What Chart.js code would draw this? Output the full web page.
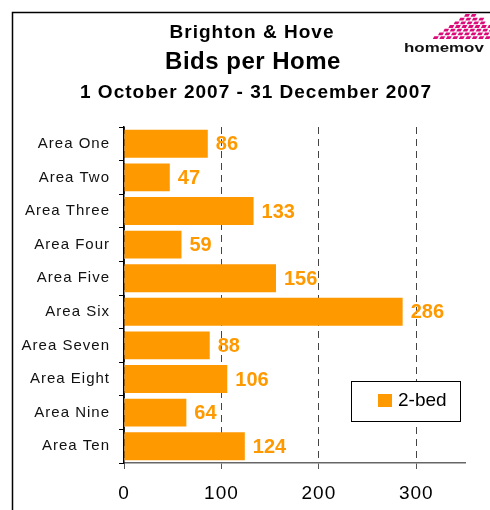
<!DOCTYPE html>
<html>
<head>
<meta charset="utf-8">
<script src="https://cdn.jsdelivr.net/npm/chart.js@4.4.0/dist/chart.umd.min.js"></script>
<style>
html, body { margin: 0; padding: 0; background: #fff; }
canvas { display: block; }
</style>
</head>
<body>
<canvas id="chart" width="490" height="510"></canvas>
<script>
// data
var areas = ['Area One', 'Area Two', 'Area Three', 'Area Four', 'Area Five',
             'Area Six', 'Area Seven', 'Area Eight', 'Area Nine', 'Area Ten'];
var bids = [86, 47, 133, 59, 156, 286, 88, 106, 64, 124];
var xTicks = [0, 100, 200, 300];
var seriesName = '2-bed';
var titleLines = ['Brighton & Hove', 'Bids per Home', '1 October 2007 - 31 December 2007'];
var logoText = 'homemov';

var orange = '#FF9900';
var fontName = '"Liberation Sans", Arial, sans-serif';

// frame, titles and logo
var decoPlugin = {
    id: 'deco',
    beforeDraw: function(chart) {
        var ctx = chart.ctx;
        // slightly spaced letters like the original (applies to the axis labels too)
        ctx.letterSpacing = '1px';
        ctx.save();
        ctx.fillStyle = '#fff';
        ctx.fillRect(0, 0, chart.width, chart.height);

        // frame round the chart (cut off at the right and bottom)
        ctx.strokeStyle = '#000';
        ctx.lineWidth = 1.5;
        ctx.beginPath();
        ctx.moveTo(12.5, 520);
        ctx.lineTo(12.5, 12.5);
        ctx.lineTo(500, 12.5);
        ctx.stroke();

        // titles
        ctx.fillStyle = '#000';
        ctx.textAlign = 'center';
        ctx.textBaseline = 'middle';
        ctx.letterSpacing = '1px';
        ctx.font = 'bold 19px ' + fontName;
        ctx.fillText(titleLines[0], 252, 33);
        ctx.letterSpacing = '0.5px';
        ctx.font = 'bold 24px ' + fontName;
        ctx.fillText(titleLines[1], 253, 62);
        ctx.letterSpacing = '1px';
        ctx.font = 'bold 19px ' + fontName;
        ctx.fillText(titleLines[2], 256, 93);

        // logo: pink dash fan
        ctx.fillStyle = '#DC0A78';
        for (var r = 0; r < 7; r++) {
            var y = 14 + r * 3.7;
            var left = 464 - r * 5.2;
            var right = Math.min(492, 474 + r * 4.5);
            for (var x = left; x < right; x += 6.5) {
                ctx.beginPath();
                ctx.moveTo(x + 1.5, y);
                ctx.lineTo(x + 6, y);
                ctx.lineTo(x + 4.5, y + 2.8);
                ctx.lineTo(x, y + 2.8);
                ctx.closePath();
                ctx.fill();
            }
        }
        // logo text
        ctx.fillStyle = '#111';
        ctx.textAlign = 'left';
        ctx.textBaseline = 'alphabetic';
        ctx.letterSpacing = '0px';
        ctx.save();
        ctx.translate(404, 52);
        ctx.scale(1.3, 1);
        ctx.font = '900 13px ' + fontName;
        ctx.fillText(logoText, 0, 0);
        ctx.restore();
        ctx.restore();
    },
    afterDatasetsDraw: function(chart) {
        // value labels after each bar
        var ctx = chart.ctx;
        var meta = chart.getDatasetMeta(0);
        ctx.save();
        ctx.fillStyle = orange;
        ctx.font = 'bold 20px ' + fontName;
        ctx.letterSpacing = '0px';
        ctx.textAlign = 'left';
        ctx.textBaseline = 'middle';
        meta.data.forEach(function(bar, i) {
            ctx.fillText(String(bids[i]), bar.x + 8, bar.y + 1);
        });
        ctx.restore();
    },
    afterDraw: function(chart) {
        // legend box
        var ctx = chart.ctx;
        ctx.save();
        ctx.fillStyle = '#fff';
        ctx.fillRect(351.5, 381.5, 109, 40);
        ctx.strokeStyle = '#000';
        ctx.lineWidth = 1;
        ctx.strokeRect(351.5, 381.5, 109, 40);
        ctx.fillStyle = orange;
        ctx.fillRect(378, 394, 14, 13);
        ctx.fillStyle = '#000';
        ctx.letterSpacing = '0px';
        ctx.font = '19px ' + fontName;
        ctx.textBaseline = 'middle';
        ctx.fillText(chart.data.datasets[0].label, 398, 401);
        ctx.restore();
    }
};

new Chart(document.getElementById('chart'), {
    type: 'bar',
    data: {
        labels: areas,
        datasets: [{
            label: seriesName,
            data: bids,
            backgroundColor: orange,
            borderWidth: 0,
            categoryPercentage: 1,
            barPercentage: 0.83
        }]
    },
    options: {
        indexAxis: 'y',
        responsive: false,
        animation: false,
        layout: { padding: { top: 127, left: 0, right: 25, bottom: 0 } },
        plugins: {
            legend: { display: false },
            title: { display: false },
            tooltip: { enabled: false }
        },
        scales: {
            x: {
                min: 0,
                max: 350,
                afterBuildTicks: function(axis) {
                    axis.ticks = xTicks.map(function(v) { return { value: v }; });
                },
                afterFit: function(axis) { axis.height = 47; },
                grid: {
                    color: '#444',
                    lineWidth: 1,
                    tickBorderDash: [],
                    tickColor: '#555',
                    tickLength: 6
                },
                border: { display: true, color: '#666', width: 1.5, dash: [7, 5] },
                ticks: {
                    color: '#000',
                    font: { family: fontName, size: 19 },
                    padding: 13
                }
            },
            y: {
                afterFit: function(axis) { axis.width = 124; },
                grid: {
                    drawOnChartArea: false,
                    tickColor: '#000',
                    tickLength: 5,
                    offset: true
                },
                border: { display: true, color: '#000', width: 1.5 },
                ticks: {
                    color: '#111',
                    font: { family: fontName, size: 15 },
                    padding: 9
                }
            }
        }
    },
    plugins: [decoPlugin]
});
</script>
</body>
</html>
